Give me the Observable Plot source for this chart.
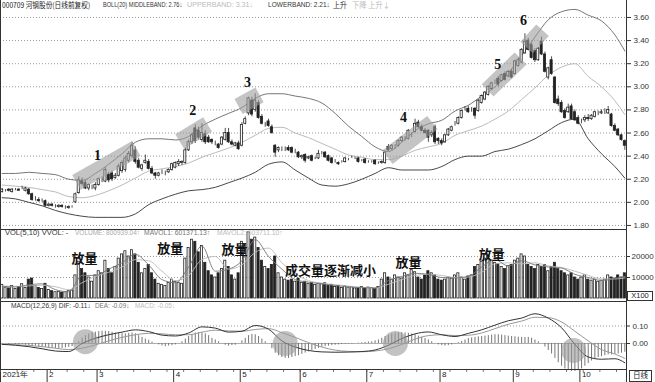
<!DOCTYPE html>
<html><head><meta charset="utf-8">
<script src="https://cdn.jsdelivr.net/npm/d3@7"></script>
<script src="https://cdn.jsdelivr.net/npm/@observablehq/plot@0.6"></script>
<style>
body{margin:0;background:#fff;}
#wrap{position:relative;width:655px;height:382px;overflow:hidden;font-family:"Liberation Sans",Arial,sans-serif;}
.panel{position:absolute;left:0;}
.h{position:absolute;font-size:7.5px;white-space:nowrap;line-height:8px;transform-origin:0 0;}
.cjk{font-family:"Noto Sans CJK SC","Liberation Sans",sans-serif;}
.box{position:absolute;border:1px solid #333;font-size:7.5px;line-height:8px;text-align:center;background:#fff;color:#222;}
</style></head><body><div id="wrap"></div>
<script>
// ---- data ----
const monthLabels = ["2021年","2","3","4","5","6","7","8","9","10"];
const monthStarts = [0,14,29,52,72,90,110,132,154,174];
const priceTicks = [1.8,2.0,2.2,2.4,2.6,2.8,3.0,3.2,3.4,3.6];
const volTicks = [10000,20000];
const macdTicks = [0,0.1];

const opens = [2.09,2.10,2.11,2.09,2.11,2.11,2.12,2.10,2.11,2.07,2.03,2.02,2.02,2.01,
1.97,1.98,1.96,1.96,1.97,1.96,1.95,1.96,2.00,2.08,2.18,2.17,2.12,2.13,2.12,
2.15,2.19,2.18,2.24,2.25,2.21,2.23,2.27,2.28,2.36,2.40,2.45,2.36,2.29,2.34,2.35,2.29,2.25,2.23,2.26,2.25,2.26,2.28,
2.30,2.33,2.34,2.34,2.45,2.52,2.64,2.62,2.54,2.59,2.56,2.54,2.51,2.50,2.50,2.54,2.60,2.52,2.49,2.51,
2.49,2.68,2.77,2.88,2.80,2.86,2.74,2.67,2.70,2.65,2.49,2.45,2.46,2.46,2.47,2.47,2.44,2.43,
2.39,2.41,2.38,2.40,2.38,2.38,2.42,2.43,2.40,2.38,2.36,2.34,2.35,2.35,2.37,2.39,2.38,2.38,2.36,2.37,
2.35,2.35,2.36,2.34,2.34,2.34,2.48,2.46,2.48,2.49,2.53,2.55,2.55,2.58,2.61,2.69,2.65,2.62,2.62,2.58,2.65,2.55,
2.53,2.52,2.58,2.62,2.68,2.68,2.73,2.81,2.81,2.80,2.81,2.79,2.86,2.89,2.93,2.98,3.04,3.07,3.05,3.11,3.09,3.13,
3.11,3.18,3.21,3.29,3.40,3.36,3.31,3.23,3.39,3.28,3.08,3.23,3.08,2.89,2.86,2.79,2.78,2.83,2.78,2.73,
2.70,2.71,2.73,2.72,2.74,2.77,2.77,2.78,2.77,2.76,2.66,2.63,2.58,2.53];
const highs = [2.12,2.11,2.12,2.12,2.12,2.12,2.14,2.13,2.12,2.08,2.05,2.04,2.03,2.02,
1.99,1.99,1.98,1.98,1.98,1.97,1.97,1.97,2.08,2.22,2.21,2.19,2.16,2.15,2.17,
2.21,2.22,2.30,2.26,2.27,2.25,2.33,2.36,2.40,2.44,2.52,2.48,2.38,2.33,2.41,2.37,2.31,2.26,2.26,2.28,2.27,2.29,2.34,
2.35,2.37,2.36,2.47,2.54,2.60,2.67,2.65,2.68,2.62,2.58,2.55,2.53,2.51,2.57,2.64,2.64,2.54,2.52,2.53,
2.69,2.74,2.91,2.91,2.94,2.88,2.76,2.69,2.72,2.67,2.50,2.48,2.48,2.48,2.49,2.48,2.46,2.44,
2.41,2.42,2.40,2.41,2.39,2.45,2.44,2.44,2.41,2.39,2.37,2.35,2.36,2.39,2.38,2.40,2.39,2.39,2.37,2.38,
2.36,2.36,2.37,2.35,2.36,2.44,2.50,2.50,2.50,2.54,2.57,2.57,2.63,2.60,2.72,2.71,2.67,2.64,2.63,2.62,2.67,2.56,
2.55,2.59,2.64,2.66,2.70,2.74,2.80,2.83,2.83,2.82,2.82,2.89,2.93,2.96,3.01,3.04,3.06,3.09,3.11,3.13,3.14,3.15,
3.23,3.25,3.33,3.46,3.42,3.38,3.33,3.34,3.43,3.30,3.17,3.26,3.09,2.92,2.88,2.81,2.85,2.85,2.80,2.75,
2.72,2.75,2.76,2.76,2.79,2.79,2.80,2.81,2.83,2.77,2.68,2.64,2.59,2.54];
const lows = [2.08,2.09,2.09,2.08,2.10,2.10,2.11,2.09,2.06,2.01,2.01,2.00,2.00,1.96,
1.96,1.96,1.95,1.95,1.95,1.94,1.94,1.95,1.99,2.07,2.14,2.11,2.10,2.11,2.10,
2.14,2.17,2.17,2.17,2.18,2.20,2.22,2.25,2.26,2.34,2.38,2.33,2.29,2.27,2.33,2.28,2.24,2.20,2.22,2.24,2.23,2.25,2.27,
2.29,2.31,2.32,2.33,2.44,2.50,2.51,2.54,2.52,2.50,2.51,2.50,2.49,2.46,2.49,2.53,2.51,2.49,2.48,2.45,
2.48,2.67,2.75,2.74,2.78,2.72,2.67,2.65,2.65,2.59,2.39,2.43,2.44,2.44,2.44,2.42,2.42,2.38,
2.37,2.34,2.37,2.35,2.37,2.37,2.41,2.38,2.35,2.33,2.34,2.32,2.34,2.34,2.36,2.38,2.37,2.34,2.35,2.33,
2.34,2.34,2.32,2.33,2.33,2.33,2.44,2.45,2.46,2.48,2.52,2.53,2.54,2.56,2.60,2.64,2.61,2.59,2.52,2.56,2.50,2.50,
2.49,2.51,2.57,2.61,2.66,2.67,2.72,2.79,2.77,2.78,2.72,2.78,2.85,2.88,2.92,2.97,3.02,3.00,3.04,3.05,3.08,3.07,
3.10,3.17,3.20,3.28,3.31,3.24,3.21,3.22,3.27,3.12,3.06,3.10,2.85,2.83,2.77,2.72,2.77,2.71,2.70,2.67,
2.68,2.69,2.70,2.71,2.73,2.75,2.76,2.76,2.76,2.65,2.61,2.57,2.53,2.45];
const closes = [2.11,2.10,2.10,2.11,2.11,2.10,2.12,2.12,2.07,2.02,2.03,2.01,2.02,1.97,
1.98,1.97,1.96,1.97,1.96,1.96,1.96,1.96,2.07,2.19,2.16,2.12,2.15,2.13,2.15,
2.20,2.19,2.28,2.19,2.20,2.23,2.31,2.34,2.38,2.42,2.49,2.35,2.30,2.32,2.36,2.29,2.25,2.23,2.25,2.26,2.25,2.28,2.33,
2.34,2.35,2.35,2.45,2.52,2.58,2.53,2.56,2.60,2.52,2.52,2.52,2.51,2.47,2.56,2.60,2.52,2.50,2.51,2.46,
2.67,2.72,2.90,2.76,2.88,2.73,2.68,2.67,2.66,2.60,2.43,2.47,2.46,2.46,2.45,2.43,2.44,2.39,
2.40,2.36,2.39,2.36,2.38,2.42,2.42,2.39,2.36,2.34,2.36,2.33,2.35,2.38,2.37,2.39,2.38,2.35,2.36,2.34,
2.35,2.35,2.33,2.34,2.35,2.43,2.45,2.49,2.48,2.53,2.56,2.55,2.62,2.58,2.68,2.65,2.62,2.60,2.56,2.60,2.52,2.53,
2.51,2.58,2.63,2.65,2.68,2.73,2.79,2.81,2.78,2.80,2.75,2.88,2.92,2.95,3.00,3.03,3.04,3.02,3.10,3.06,3.13,3.08,
3.22,3.23,3.32,3.39,3.32,3.25,3.23,3.33,3.28,3.13,3.16,3.11,2.86,2.85,2.78,2.73,2.82,2.72,2.71,2.68,
2.70,2.73,2.72,2.75,2.78,2.77,2.78,2.78,2.80,2.66,2.62,2.58,2.54,2.49];
const volumes = [6500,5200,4800,6000,4500,5500,6800,5000,9000,9500,6000,5000,4500,7000,
4000,3500,3000,3200,2800,3000,3500,3800,11000,17500,
14000,12000,10000,8000,11000,
13000,12000,18000,14000,12000,15000,19000,21000,22500,20000,23000,
21000,17000,12000,14000,16000,
12000,9000,7000,6500,6000,7500,9000,8000,7500,7000,
19000,24000,28000,27000,22000,25000,
17000,13000,11000,10000,12000,14000,18000,15000,11000,9000,12000,
27000,26000,31500,28000,29000,24000,
18000,15000,14000,16000,20000,
12000,10000,9000,8500,9000,8000,9500,7500,8000,7000,7500,6500,7000,6800,7200,6000,6500,5500,6000,5000,5800,5200,5500,4800,5000,5500,4800,5200,5000,4500,5500,
9000,12000,10000,9000,11000,10000,9500,12000,11000,13500,12500,10000,9000,11000,13000,12000,
11000,9000,8500,9000,10000,9500,11000,12000,10000,9000,10500,
11000,15000,16000,17500,19000,20500,18000,17000,16500,15000,14000,15500,16000,18000,19000,21000,
20000,16000,15000,14000,16000,15000,16000,13000,15000,17000,14000,13000,
12000,11000,12000,10000,9000,10000,11000,9000,8500,9000,8000,8500,9000,11000,10000,9500,11000,10000,12000];
const macdHist = [0,0,-0.005,0,-0.005,-0.008,-0.005,-0.01,-0.012,-0.015,-0.015,-0.018,-0.02,-0.022,
-0.025,-0.028,-0.03,-0.03,-0.028,-0.025,-0.022,-0.018,-0.005,0.01,
0.03,0.045,0.055,0.062,0.065,0.068,0.07,0.07,0.068,0.064,0.06,0.058,0.056,0.055,0.058,0.06,0.055,
0.045,0.035,0.025,0.018,0.008,0,-0.008,-0.014,-0.018,-0.015,-0.012,-0.008,
0,0.01,0.025,0.04,0.052,0.06,0.062,0.06,0.055,0.045,
0.03,0.02,0.01,0,-0.01,-0.015,-0.012,-0.01,
0,0.015,0.03,0.045,0.052,0.05,0.04,0.025,0.01,0,
-0.03,-0.055,-0.07,-0.08,-0.085,-0.085,-0.08,-0.075,-0.07,-0.062,-0.055,-0.048,
-0.04,-0.034,-0.028,-0.022,-0.018,-0.015,-0.012,-0.01,-0.008,-0.006,-0.004,-0.003,-0.002,0,0.002,0.004,0.006,0.008,
0.01,0.015,0.02,0.03,0.04,0.048,0.055,0.06,0.062,0.062,0.06,0.058,0.055,0.05,0.042,0.035,0.028,
0.02,0.01,0,-0.008,-0.012,-0.015,-0.012,-0.008,-0.002,
0.005,0.012,0.02,0.028,0.032,0.035,0.038,0.04,0.042,0.045,0.048,0.05,0.05,0.048,0.045,0.042,0.04,0.038,0.036,0.035,0.034,0.035,0.03,0.02,0.01,0,
-0.02,-0.04,-0.06,-0.085,-0.11,-0.13,-0.145,-0.155,-0.16,-0.16,-0.155,-0.145,-0.13,-0.115,-0.1,-0.09,-0.08,-0.075,-0.07,-0.065,-0.065,-0.062,-0.06,-0.055,-0.05];

// sampled every 4th trading day (plus the last day)
const bollUpper = [2.25,2.25,2.26,2.25,2.24,2.20,2.19,2.25,2.33,2.42, 2.52,2.55,2.55,2.54,2.57,2.66,2.72,2.77,2.82,2.90,
2.94,2.94,2.92,2.90,2.86,2.77,2.66,2.57,2.48,2.44, 2.52,2.62,2.68,2.71,2.79,2.84,2.92,3.00,3.12,3.27,
3.43,3.58,3.65,3.67,3.62,3.57,3.45,3.31];
const bollMiddle = [2.15,2.14,2.13,2.11,2.09,2.05,2.04,2.06,2.10,2.15, 2.21,2.27,2.29,2.31,2.34,2.39,2.43,2.47,2.52,2.58,
2.64,2.65,2.60,2.56,2.51,2.46,2.41,2.39,2.37,2.37, 2.40,2.45,2.48,2.51,2.58,2.62,2.66,2.72,2.79,2.89,
2.99,3.10,3.17,3.20,3.09,3.00,2.88,2.76];
const bollLower = [2.04,2.03,2.00,1.97,1.93,1.90,1.88,1.87,1.87,1.87, 1.90,1.98,2.03,2.07,2.10,2.11,2.13,2.17,2.21,2.26,
2.33,2.35,2.28,2.21,2.15,2.14,2.16,2.20,2.25,2.30, 2.28,2.28,2.28,2.31,2.37,2.40,2.40,2.44,2.46,2.50,
2.55,2.62,2.69,2.72,2.55,2.42,2.31,2.21];
const macdDif = [-0.005,-0.01,-0.018,-0.03,-0.043,-0.046,0,0.03,0.05,0.065, 0.078,0.068,0.048,0.043,0.06,0.095,0.088,0.065,0.07,0.103,
0.082,0.015,-0.02,-0.04,-0.048,-0.05,-0.049,-0.046,-0.037,-0.01, 0.028,0.055,0.066,0.05,0.04,0.058,0.078,0.105,0.13,0.145,
0.17,0.145,0.09,-0.005,-0.077,-0.09,-0.087,-0.11];
const macdDea = [-0.005,-0.007,-0.011,-0.018,-0.027,-0.035,-0.027,-0.008,0.015,0.035, 0.05,0.058,0.055,0.05,0.05,0.065,0.076,0.072,0.07,0.08,
0.085,0.062,0.035,0.005,-0.02,-0.038,-0.045,-0.047,-0.043,-0.03, -0.005,0.025,0.045,0.05,0.045,0.047,0.06,0.085,0.11,0.128,
0.15,0.148,0.123,0.07,0.015,-0.035,-0.06,-0.085];
const volMa5 = [5800,5500,6500,7000,4200,3200,11000,11000,14000,17000, 21000,16000,9000,7500,15000,25000,13000,14000,18000,28000,
20000,14000,9000,7800,7000,6200,5500,5200,5000,8500, 10500,12000,11500,10000,9800,10500,15000,18500,15500,18000,
16000,15000,14500,11500,10000,8600,9500,10500];
const volMa10 = [6000,5800,6000,6300,5600,4200,7500,10500,12500,15000, 18500,18000,13000,8500,11000,18500,20000,14000,16000,22000,
24000,17000,12000,8500,7300,6600,5900,5300,5100,6800, 9000,11000,11500,11000,10000,10200,12500,16500,17000,16500,
17000,15500,14800,13000,11000,9300,9300,9800];

// annotations (trading-day index, value)
const zoneLabels = ["1","2","3","4","5","6"];
const zoneStartIdx = [22.3,53.3,71,115.7,145.8,157.5];
const zoneStartPrice = [2.172,2.527,2.83,2.39,2.97,3.34];
const zoneEndIdx = [40.3,61.7,77.3,129.2,155.7,162.3];
const zoneEndPrice = [2.466,2.674,2.93,2.69,3.245,3.49];
const zoneLabelIdx = [28.6,57.2,73.7,120.5,148.8,156.6];
const zoneLabelPrice = [2.405,2.795,3.04,2.735,3.193,3.574];
const volNoteText = ["放量","放量","放量","成交量逐渐减小","放量","放量"];
const volNoteIdx = [24.7,50.5,69.8,98.6,122,147];
const volNoteValue = [19000,23600,23000,13300,17100,21000];
const circleIdx = [25,85,118.1,171.6];
const circleValue = [0.01,0,0,-0.04];

// ---- layout ----
const N = closes.length;
const W = 655, MR = 29;
const xDomain = [-0.5, N - 0.5];
const kx = (W - MR) / N;
const yMain = [1.765, 3.747], hMain = 229;
const kyMain = hMain / (yMain[1] - yMain[0]);
const yVol = [-1429, 32857], hVol = 72;
const yMacd = [-0.1486, 0.24], hMacd = 68, hAxis = 13;
const kyMacd = hMacd / (yMacd[1] - yMacd[0]);

const candles = d3.range(N).map(i => ({i, o: opens[i], h: highs[i], l: lows[i], c: closes[i], v: volumes[i], m: macdHist[i], up: closes[i] >= opens[i]}));
const sIdx = bollUpper.map((_, k) => Math.min(k * 4, N - 1));
const bands = sIdx.map((i, k) => ({i, u: bollUpper[k], m: bollMiddle[k], l: bollLower[k], dif: macdDif[k], dea: macdDea[k], v5: volMa5[k], v10: volMa10[k]}));
const minorTicks = d3.range(0, N, 5).map(i => i - 0.5);

const style = {fontFamily: '"Liberation Sans", Arial, sans-serif', fontSize: "8px", color: "#333", background: "transparent", overflow: "visible"};
const dark = "#222";
const bodyOpts = {x1: d => d.i - 0.32, x2: d => d.i + 0.32, stroke: dark, strokeWidth: 0.8, fill: d => d.up ? "#fff" : dark};

function zonePts(k) {
  const i1 = zoneStartIdx[k], p1 = zoneStartPrice[k], i2 = zoneEndIdx[k], p2 = zoneEndPrice[k];
  const dx = (i2 - i1) * kx, dy = (p2 - p1) * kyMain;
  const len = Math.hypot(dx, dy), h = 8.5;
  const oi = (-dy / len) * h / kx, op = (dx / len) * h / kyMain;
  return [[i1+oi,p1+op],[i2+oi,p2+op],[i2-oi,p2-op],[i1-oi,p1-op],[i1+oi,p1+op]].map(([x, y]) => ({x, y}));
}
const edges = (dom) => [
  Plot.ruleX(xDomain, {stroke: "#333"}),
  Plot.ruleY([dom[0]], {stroke: "#333"})
];

const main = Plot.plot({
  width: W, height: hMain, marginLeft: 0, marginRight: MR, marginTop: 0, marginBottom: 0, style,
  color: {type: "identity"},
  x: {domain: xDomain, axis: null},
  y: {domain: yMain, axis: "right", ticks: priceTicks, tickFormat: d => d.toFixed(2), tickSize: 4, tickPadding: 3, label: null},
  marks: [
    Plot.ruleY(priceTicks, {stroke: "#999", strokeDasharray: "1,2"}),
    Plot.line(bands, {x: "i", y: "m", stroke: "#bbb", strokeWidth: 1, curve: "monotone-x"}),
    Plot.line(bands, {x: "i", y: "u", stroke: "#666", strokeWidth: 0.9, curve: "monotone-x"}),
    Plot.line(bands, {x: "i", y: "l", stroke: "#333", strokeWidth: 0.9, curve: "monotone-x"}),
    Plot.ruleX(candles, {x: "i", y1: "l", y2: "h", stroke: dark, strokeWidth: 0.8}),
    Plot.rect(candles, {...bodyOpts, y1: "o", y2: "c"}),
    ...zoneLabels.map((_, k) => Plot.line(zonePts(k), {x: "x", y: "y", fill: "#9c9c9c", fillOpacity: 0.6, stroke: "none"})),
    Plot.text(zoneLabels, {x: (d, k) => zoneLabelIdx[k], y: (d, k) => zoneLabelPrice[k], text: d => d, fontFamily: '"Liberation Serif", serif', fontWeight: "bold", fontSize: 14, fill: "#111"}),
    ...edges(yMain)
  ]
});

const vol = Plot.plot({
  width: W, height: hVol, marginLeft: 0, marginRight: MR, marginTop: 0, marginBottom: 0, style,
  color: {type: "identity"},
  x: {domain: xDomain, axis: null},
  y: {domain: yVol, axis: "right", ticks: volTicks, tickFormat: d => String(d), tickSize: 3, tickPadding: 2, label: null},
  marks: [
    Plot.ruleY(volTicks, {stroke: "#999", strokeDasharray: "1,2"}),
    Plot.rect(candles, {...bodyOpts, y1: d => 0, y2: "v"}),
    Plot.line(bands, {x: "i", y: "v10", stroke: "#bbb", strokeWidth: 0.9, curve: "monotone-x"}),
    Plot.line(bands, {x: "i", y: "v5", stroke: "#777", strokeWidth: 0.9, curve: "monotone-x"}),
    Plot.text(volNoteText, {x: (d, k) => volNoteIdx[k], y: (d, k) => volNoteValue[k], text: d => d, fontFamily: '"Noto Sans CJK SC", sans-serif', fontWeight: "bold", fontSize: 13, fill: "#111"}),
    ...edges(yVol)
  ]
});

const macd = Plot.plot({
  width: W, height: hMacd + hAxis, marginLeft: 0, marginRight: MR, marginTop: 0, marginBottom: hAxis, style,
  color: {type: "identity"},
  x: {domain: xDomain, axis: "bottom", ticks: monthStarts.map(d => d - 0.5), tickFormat: () => "", tickSize: hAxis, tickPadding: 0, label: null},
  y: {domain: yMacd, axis: "right", ticks: macdTicks, tickFormat: d => d.toFixed(2), tickSize: 3, tickPadding: 3, label: null},
  marks: [
    Plot.ruleY([0.1], {stroke: "#999", strokeDasharray: "1,2"}),
    Plot.ruleY([0], {stroke: "#999", strokeWidth: 0.8}),
    Plot.ruleX(candles, {x: "i", y1: d => 0, y2: "m", stroke: "#666", strokeWidth: 0.9}),
    Plot.line(bands, {x: "i", y: "dea", stroke: "#999", strokeWidth: 1, curve: "monotone-x"}),
    Plot.line(bands, {x: "i", y: "dif", stroke: "#333", strokeWidth: 1, curve: "monotone-x"}),
    Plot.dot(circleIdx, {x: d => d, y: (d, k) => circleValue[k], r: 12.5, fill: "#999", fillOpacity: 0.6, stroke: "none"}),
    Plot.ruleX(minorTicks, {x: d => d, y1: yMacd[0], y2: yMacd[0] - 3 / kyMacd, stroke: "#555", strokeWidth: 0.8}),
    Plot.text(monthLabels, {x: (d, k) => monthStarts[k] - 0.5, frameAnchor: "bottom", dy: 7.5, dx: 2, textAnchor: "start", text: d => d, fontSize: 8, fill: "#222"}),
    ...edges(yMacd)
  ]
});

const wrap = document.getElementById("wrap");
[[main, 0], [vol, hMain], [macd, hMain + hVol]].forEach(([svg, top]) => {
  svg.classList.add("panel"); svg.style.top = top + "px"; wrap.appendChild(svg);
});

// header texts, each squeezed to the span it occupies in the reference
function label(text, x, y, w, color, cls) {
  const d = document.createElement("div");
  d.className = "h" + (cls ? " " + cls : "");
  d.style.left = x + "px"; d.style.top = y + "px"; d.style.color = color;
  d.textContent = text; wrap.appendChild(d);
  const s = w / d.offsetWidth;
  if (s < 1) d.style.transform = `scaleX(${s})`;
}
label("000709 河钢股份(日线前复权)", 2, 1, 88, "#222", "cjk");
label("BOLL(20) MIDDLEBAND: 2.76↓", 103, 1, 79, "#333");
label("UPPERBAND: 3.31↓", 187, 1, 66, "#bbb");
label("LOWERBAND: 2.21↓", 268, 1, 62, "#333");
label("上升", 333, 1, 14, "#333", "cjk");
label("下降  上升↓", 352, 1, 38, "#bbb", "cjk");
label("VOL(5,10) VVOL: -", 5, 229, 65, "#333");
label("VOLUME: 800939.04↑", 75, 229, 65, "#aaa");
label("MAVOL1: 601371.13↑", 144, 229, 66, "#777");
label("MAVOL2: 603711.10↑", 217, 229, 66, "#bbb");
label("MACD(12,26,9) DIF: -0.11↓", 11, 302, 80, "#333");
label("DEA: -0.09↓", 95, 302, 34, "#777");
label("MACD: -0.05↓", 135, 302, 40, "#bbb");

function box(text, x, y, w, h, cls) {
  const d = document.createElement("div");
  d.className = "box" + (cls ? " " + cls : "");
  Object.assign(d.style, {left: x + "px", top: y + "px", width: w + "px", height: h + "px"});
  d.textContent = text; wrap.appendChild(d);
}
box("X100", 627, 291, 24, 8);
box("日线", 629, 370, 21, 10, "cjk");
const sep = document.createElement("div");
Object.assign(sep.style, {position: "absolute", left: "626px", top: "369px", width: "1px", height: "13px", background: "#333"});
wrap.appendChild(sep);
</script></body></html>
